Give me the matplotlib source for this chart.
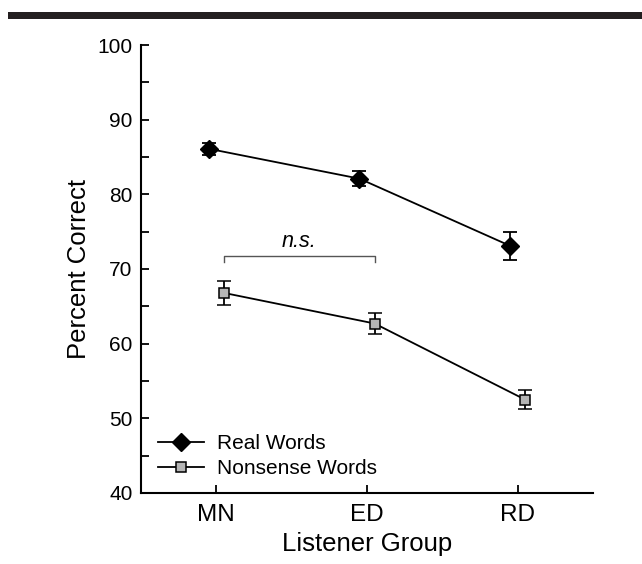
import numpy as np
import matplotlib.pyplot as plt
from matplotlib.lines import Line2D
from matplotlib.ticker import MultipleLocator

plt.rcParams['font.family'] = ['Liberation Sans', 'DejaVu Sans']

# data
groups = ["MN", "ED", "RD"]
real_words = [86.1, 82.1, 73.1]
real_err = [0.8, 1.0, 1.9]
nonsense_words = [66.8, 62.7, 52.5]
nonsense_err = [1.6, 1.35, 1.3]

x = np.arange(len(groups))
offset = 0.05

fig = plt.figure(figsize=(6.42, 5.64), dpi=100)
ax = fig.add_axes([0.2196, 0.1259, 0.7041, 0.7943])

# thick rule across the top of the page
fig.add_artist(plt.Rectangle((0.012, 0.966), 0.988, 0.0125,
                             transform=fig.transFigure, color="#231f20", lw=0))

real_style = dict(color="black", lw=1.3, marker="D", markersize=9,
                  markerfacecolor="black", markeredgecolor="black")
nons_style = dict(color="black", lw=1.3, marker="s", markersize=7.5,
                  markerfacecolor="#b5b5b5", markeredgecolor="black",
                  markeredgewidth=1.1)

ax.errorbar(x - offset, real_words, yerr=real_err, capsize=5, capthick=1.3,
            elinewidth=1.3, **real_style)
ax.errorbar(x + offset, nonsense_words, yerr=nonsense_err, capsize=5,
            capthick=1.3, elinewidth=1.3, **nons_style)

# n.s. bracket between MN and ED nonsense words
bx0, bx1 = x[0] + offset, x[1] + offset
ax.plot([bx0, bx0, bx1, bx1], [70.9, 71.7, 71.7, 70.9], color="#555555", lw=1.0)
ax.text((bx0 + bx1) / 2, 72.3, "n.s.", style="italic", fontsize=15.5,
        ha="center", va="bottom")

ax.set_xlim(-0.5, 2.5)
ax.set_ylim(40, 100)
ax.set_xticks(x)
ax.set_xticklabels(groups)
ax.yaxis.set_major_locator(MultipleLocator(10))
ax.yaxis.set_minor_locator(MultipleLocator(5))
ax.tick_params(axis="both", which="major", direction="in", length=6, width=1.3)
ax.tick_params(axis="y", which="minor", direction="in", length=6, width=1.3)
ax.tick_params(axis="x", labelsize=17.5, pad=8)
ax.tick_params(axis="y", labelsize=15, pad=6)

for side in ["top", "right"]:
    ax.spines[side].set_visible(False)
for side in ["left", "bottom"]:
    ax.spines[side].set_linewidth(1.5)

ax.set_xlabel("Listener Group", fontsize=18.5, labelpad=4)
ax.set_ylabel("Percent Correct", fontsize=18.5, labelpad=5)

handles = [Line2D([], [], **real_style), Line2D([], [], **nons_style)]
ax.legend(handles, ["Real Words", "Nonsense Words"], loc="lower left",
          bbox_to_anchor=(0.011, 0.005), frameon=False, fontsize=15,
          handlelength=2.2, handletextpad=0.6, labelspacing=0.3,
          borderaxespad=0.2)

fig.savefig("out.png", dpi=100, facecolor="white")
